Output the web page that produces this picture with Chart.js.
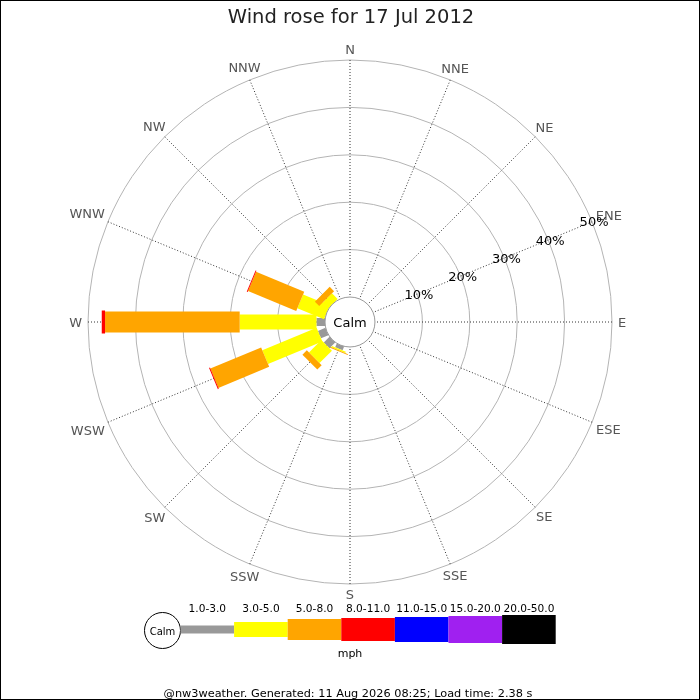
<!DOCTYPE html>
<html>
<head>
<meta charset="utf-8">
<script src="https://cdn.jsdelivr.net/npm/chart.js@4.4.1/dist/chart.umd.min.js"></script>
<style>
html,body{margin:0;padding:0;background:#fff;overflow:hidden}
canvas{display:block}
</style>
</head>
<body>
<canvas id="c" width="700" height="700"></canvas>
<script>
// ---- data ----
const directions = ['N','NNE','NE','ENE','E','ESE','SE','SSE','S','SSW','SW','WSW','W','WNW','NW','NNW'];
const speedBins  = ['1.0-3.0','3.0-5.0','5.0-8.0','8.0-11.0','11.0-15.0','15.0-20.0','20.0-50.0'];
// percentage of time per direction for each speed bin (mph)
const pct_1_3   = [0,0,0,0,0,0,0,0,0,0.85,1.7,1.7,1.8,0,0,0];
const pct_3_5   = [0,0,0,0,0,0,0,0,0,0.3,3.7,12.4,16.2,6.1,1.7,0];
const pct_5_8   = [0,0,0,0,0,0,0,0,0,0.2,1.3,11.6,28.4,11.0,1.3,0];
const pct_8_11  = [0,0,0,0,0,0,0,0,0,0,0,0.2,0.7,0.2,0,0];
const pct_11_15 = [0,0,0,0,0,0,0,0,0,0,0,0,0,0,0,0];
const pct_15_20 = [0,0,0,0,0,0,0,0,0,0,0,0,0,0,0,0];
const pct_20_50 = [0,0,0,0,0,0,0,0,0,0,0,0,0,0,0,0];
const ringTicks = [10,20,30,40,50];
const titleText  = 'Wind rose for 17 Jul 2012';
const calmText   = 'Calm';
const unitText   = 'mph';
const footerText = '@nw3weather. Generated: 11 Aug 2026 08:25; Load time: 2.38 s';

// ---- styles ----
const binValues = [pct_1_3, pct_3_5, pct_5_8, pct_8_11, pct_11_15, pct_15_20, pct_20_50];
const binColors = ['#999999','#ffff00','#ffa500','#ff0000','#0000ff','#a020f0','#000000'];
const binWidths = [8,15,21,23,25,27,29];
const FONT = '"DejaVu Sans", "Liberation Sans", sans-serif';

const rosePlugin = {
  id: 'rose',
  afterDatasetsDraw(chart) {
    const s = chart.scales.r;
    const ctx = chart.ctx;
    ctx.save();
    ctx.lineCap = 'butt';
    // stacked bars per direction
    directions.forEach((d, i) => {
      let cum = 0;
      chart.data.datasets.forEach((ds) => {
        const v = ds.data[i];
        if (!v) return;
        const p0 = s.getPointPosition(i, s.getDistanceFromCenterForValue(cum));
        const p1 = s.getPointPosition(i, s.getDistanceFromCenterForValue(cum + v));
        ctx.strokeStyle = ds.barColor;
        ctx.lineWidth = ds.barWidth;
        ctx.beginPath();
        ctx.moveTo(p0.x, p0.y);
        ctx.lineTo(p1.x, p1.y);
        ctx.stroke();
        cum += v;
      });
    });
    // calm circle
    const r0 = s.getDistanceFromCenterForValue(0);
    ctx.beginPath();
    ctx.arc(s.xCenter, s.yCenter, r0, 0, Math.PI * 2);
    ctx.fillStyle = '#fff';
    ctx.fill();
    ctx.strokeStyle = '#999';
    ctx.lineWidth = 1;
    ctx.stroke();
    const fs = 13, capH = fs * 0.729;
    ctx.font = fs + 'px ' + FONT;
    ctx.textAlign = 'center';
    ctx.textBaseline = 'alphabetic';
    ctx.fillStyle = '#000';
    ctx.fillText(calmText, s.xCenter, s.yCenter + capH / 2);
    // direction labels
    ctx.fillStyle = '#555';
    directions.forEach((d, i) => {
      const w = ctx.measureText(d).width;
      const a = s.getIndexAngle(i);
      const ext = Math.hypot(Math.sin(a) * w / 2, Math.cos(a) * capH / 2);
      const p = s.getPointPosition(i, s.drawingArea + 6 + ext);
      ctx.fillText(d, p.x, p.y + capH / 2);
    });
    // ring labels along ENE
    const iLab = directions.indexOf('ENE');
    ctx.fillStyle = '#000';
    ringTicks.forEach(v => {
      const p = s.getPointPosition(iLab, s.getDistanceFromCenterForValue(v));
      ctx.fillText(v + '%', p.x + 2, p.y + capH / 2);
    });
    ctx.restore();
  },
  afterDraw(chart) {
    const ctx = chart.ctx;
    ctx.save();
    ctx.textAlign = 'center';
    ctx.textBaseline = 'alphabetic';
    // title
    ctx.fillStyle = '#222';
    ctx.font = '19.5px ' + FONT;
    ctx.fillText(titleText, 351, 23);
    // legend
    const cy = 629.5, x0 = 180.5, segW = 53.6;
    ctx.lineWidth = 1;
    ctx.strokeStyle = '#000';
    ctx.fillStyle = '#fff';
    ctx.beginPath();
    ctx.arc(162.5, 630.5, 18, 0, Math.PI * 2);
    ctx.fill();
    ctx.stroke();
    ctx.fillStyle = '#000';
    ctx.font = '10px ' + FONT;
    ctx.fillText(calmText, 162.5, 634.5);
    ctx.font = '10.6px ' + FONT;
    speedBins.forEach((b, k) => {
      const x = x0 + k * segW;
      const h = binWidths[k];
      ctx.fillStyle = binColors[k];
      ctx.fillRect(x, cy - h / 2, segW, h);
      ctx.fillStyle = '#000';
      ctx.fillText(b, x + segW / 2, 611.5);
    });
    ctx.font = '11px ' + FONT;
    ctx.fillText(unitText, 350, 656.5);
    // footer
    ctx.font = '11.3px ' + FONT;
    ctx.fillText(footerText, 348, 697);
    // frame
    ctx.strokeStyle = '#000';
    ctx.strokeRect(0.5, 0.5, 699, 699);
    ctx.restore();
  }
};

new Chart(document.getElementById('c'), {
  type: 'radar',
  data: {
    labels: directions,
    datasets: speedBins.map((name, k) => ({
      label: name,
      data: binValues[k],
      barColor: binColors[k],
      barWidth: binWidths[k],
      showLine: false,
      fill: false,
      borderWidth: 0,
      pointRadius: 0,
      pointHoverRadius: 0,
      pointHitRadius: 0
    }))
  },
  options: {
    responsive: false,
    animation: false,
    devicePixelRatio: 1,
    events: [],
    layout: { padding: { left: 88, right: 88, top: 60, bottom: 116 } },
    plugins: {
      legend: { display: false },
      title: { display: false },
      tooltip: { enabled: false }
    },
    scales: {
      r: {
        min: -5.27,
        max: 50,
        afterBuildTicks(scale) { scale.ticks = ringTicks.map(v => ({ value: v })); },
        ticks: { display: false },
        pointLabels: { display: false },
        grid: { circular: true, color: '#b4b4b4', lineWidth: 1 },
        angleLines: { color: '#333', lineWidth: 1, borderDash: [1, 2] }
      }
    }
  },
  plugins: [rosePlugin]
});
</script>
</body>
</html>
